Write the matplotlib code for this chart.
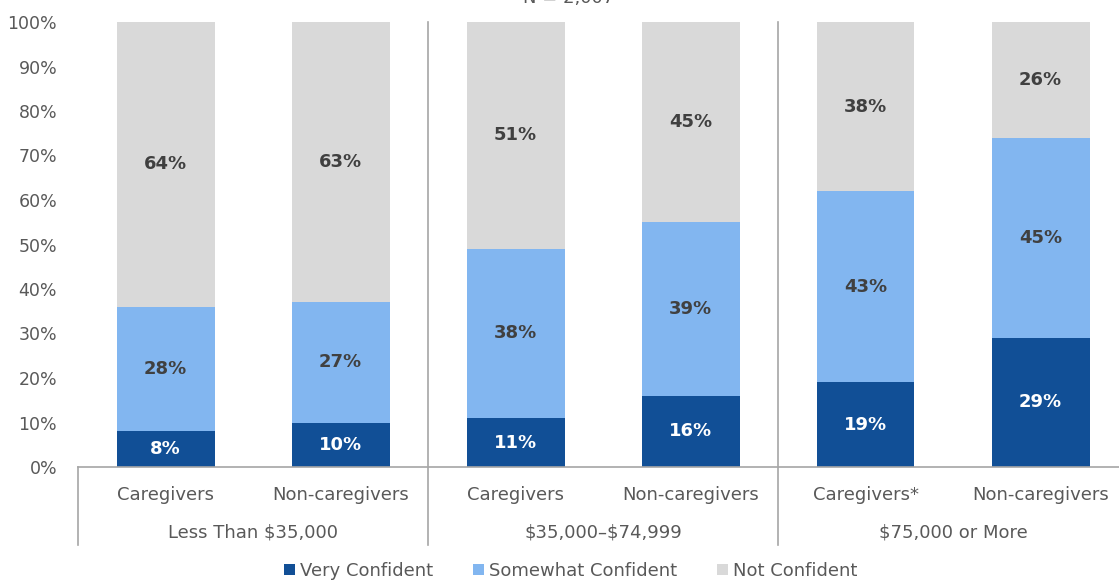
import matplotlib.pyplot as plt
from matplotlib.lines import Line2D
from matplotlib.patches import Patch
import numpy as np

# --- dados ---
groups = ["Less Than \\$35,000", "\\$35,000\u2013\\$74,999", "\\$75,000 or More"]
categories = ["Caregivers", "Non-caregivers", "Caregivers", "Non-caregivers",
              "Caregivers*", "Non-caregivers"]
very = [8, 10, 11, 16, 19, 29]
somewhat = [28, 27, 38, 39, 43, 45]
not_conf = [64, 63, 51, 45, 38, 26]
series_names = ["Very Confident", "Somewhat Confident", "Not Confident"]
colors = ["#114F96", "#82B6F0", "#D9D9D9"]
label_colors = ["white", "#404040", "#404040"]
yticks = np.arange(0, 101, 10)

plt.rcParams['font.family'] = ['DejaVu Sans']
gray = "#595959"
line_gray = "#A6A6A6"

fig = plt.figure(figsize=(11.19, 5.81), dpi=100)
ax = fig.add_axes([78 / 1119, (581 - 467) / 581, 1050 / 1119, 445 / 581])

x = np.arange(len(categories))
bottom = np.zeros(len(categories))
for vals, c, lc, name in zip([very, somewhat, not_conf], colors, label_colors, series_names):
    vals = np.array(vals, dtype=float)
    ax.bar(x, vals, 0.56, bottom=bottom, color=c, label=name, zorder=2)
    for xi, b, v in zip(x, bottom, vals):
        ax.text(xi, b + v / 2, f"{int(v)}%", ha='center', va='center',
                fontsize=13, fontweight='bold', color=lc, zorder=3)
    bottom += vals

ax.set_xlim(-0.5, 5.5)
ax.set_ylim(0, 100)
ax.set_yticks(yticks)
ax.set_yticklabels([f"{t}%" for t in yticks], fontsize=12.5, color=gray)
ax.tick_params(axis='y', length=0, pad=15)
ax.set_xticks([])
for s in ['left', 'right', 'top']:
    ax.spines[s].set_visible(False)
ax.spines['bottom'].set_color(line_gray)
ax.spines['bottom'].set_linewidth(1.2)

trans = ax.get_xaxis_transform()
y_low = -(545 - 467) / 445
# separadores dos grupos
for xv in [1.5, 3.5]:
    ax.add_line(Line2D([xv, xv], [1.0, y_low], transform=trans, color=line_gray,
                       lw=1.2, clip_on=False, zorder=1))
ax.add_line(Line2D([-0.5, -0.5], [0, y_low], transform=trans, color=line_gray,
                   lw=1.2, clip_on=False))

# rótulos de categoria e grupo
for xi, cat in zip(x, categories):
    ax.text(xi, -(495 - 467) / 445, cat, transform=trans, ha='center', va='center',
            fontsize=13, color=gray)
for gi, g in enumerate(groups):
    ax.text(2 * gi + 0.5, -(533 - 467) / 445, g, transform=trans, ha='center',
            va='center', fontsize=13, color=gray)

# legenda
handles = [Patch(facecolor=c, edgecolor='none') for c in colors]
fig.legend(handles, series_names, loc='center', bbox_to_anchor=(0.51, 1 - 571 / 581),
           ncol=3, frameon=False, fontsize=13, handlelength=0.6, handleheight=0.6,
           handletextpad=0.3, columnspacing=2.2, labelcolor=gray)

# título cortado no topo (como na referência)
fig.text(0.508, 1 - 3 / 581, "N = 2,007", ha='center', va='baseline',
         fontsize=13, color=gray)

fig.savefig("out.png", dpi=100)
